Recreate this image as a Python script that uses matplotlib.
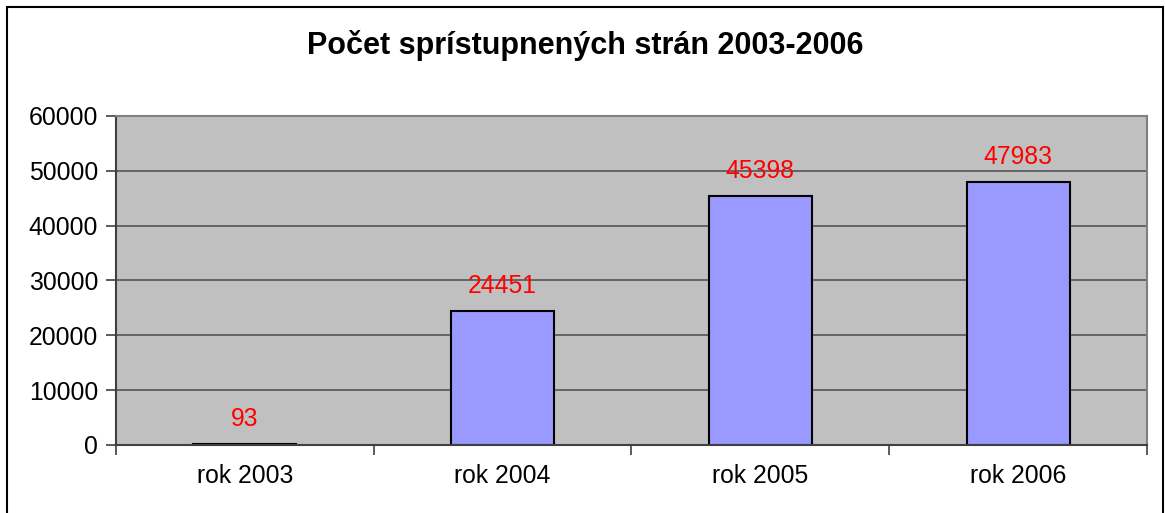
import matplotlib.pyplot as plt
from matplotlib.patches import Rectangle

categories = ["rok 2003", "rok 2004", "rok 2005", "rok 2006"]
values = [93, 24451, 45398, 47983]
yticks = [0, 10000, 20000, 30000, 40000, 50000, 60000]

plt.rcParams['font.family'] = ['Liberation Sans', 'DejaVu Sans']

fig = plt.figure(figsize=(11.65, 5.13), dpi=100)
ax = fig.add_axes([0.0996, 0.1326, 0.8849, 0.6413])
ax.set_facecolor('#C0C0C0')

x = range(len(categories))
ax.bar(x, values, width=0.4, color='#9999FF', edgecolor='black', linewidth=1.5, zorder=3)
for xi, v in zip(x, values):
    ax.annotate(str(v), (xi, v), xytext=(0, 18), textcoords='offset points',
                ha='center', va='center', color='red', fontsize=17.8, zorder=4)

ax.set_xlim(-0.5, len(categories) - 0.5)
ax.set_ylim(0, 60000)
ax.set_yticks(yticks)
ax.set_yticklabels([str(t) for t in yticks], fontsize=17.8)
ax.yaxis.grid(True, color='#555555', linewidth=1.2, zorder=1)
ax.set_axisbelow(True)

# category labels between boundary ticks
ax.set_xticks([i - 0.5 for i in range(len(categories) + 1)])
ax.set_xticklabels([])
ax.set_xticks(list(x), minor=True)
ax.set_xticklabels(categories, minor=True, fontsize=17.8)
ax.tick_params(axis='x', which='minor', length=0, pad=14)
ax.tick_params(axis='x', which='major', length=7, color='#404040', width=1.2)
ax.tick_params(axis='y', length=7, color='#404040', width=1.2, pad=6)

ax.spines['left'].set_color('#404040')
ax.spines['bottom'].set_color('#404040')
ax.spines['top'].set_color('#808080')
ax.spines['right'].set_color('#808080')
for s in ax.spines.values():
    s.set_linewidth(1.5)
    s.set_zorder(5)

fig.text(0.502, 0.912, "Počet sprístupnených strán 2003-2006", ha='center', va='center',
         fontsize=22, fontweight='bold')

fig.patches.append(Rectangle((0.006, -0.1), 0.9923, 1.0864, transform=fig.transFigure,
                             fill=False, edgecolor='black', linewidth=1.5))

fig.savefig('out.png', dpi=100)
